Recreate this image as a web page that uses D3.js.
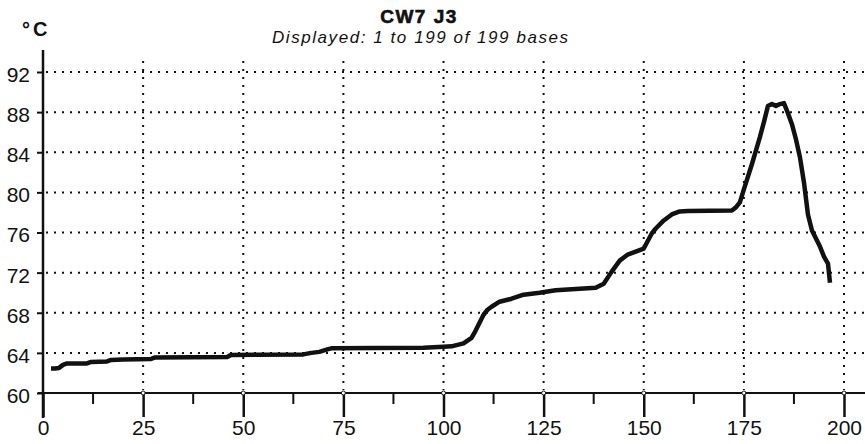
<!DOCTYPE html>
<html>
<head>
<meta charset="utf-8">
<script src="https://cdn.jsdelivr.net/npm/d3@7"></script>
<style>
  html, body { margin: 0; padding: 0; background: #fff; }
  svg { display: block; }
  text { font-family: "Liberation Sans", Arial, sans-serif; fill: #111; }
</style>
</head>
<body>
<svg id="chart" width="865" height="444"></svg>
<script>
// ---- data ----
const title = "CW7 J3";
const subtitle = "Displayed: 1 to 199 of 199 bases";
const unitLabel = "°C";
const xTicks = [0, 25, 50, 75, 100, 125, 150, 175, 200];
const xMinorTicks = [12.5, 37.5, 62.5, 87.5, 112.5, 137.5, 162.5, 187.5];
const yTicks = [60, 64, 68, 72, 76, 80, 84, 88, 92];
const bases = [2, 3, 4, 5, 6, 8, 11, 12, 16, 17, 20, 27, 28, 46, 47, 65, 67, 69, 71, 72,
  95, 100, 102, 105, 107, 108, 109, 110, 111, 112, 114, 117, 120, 124, 128, 136, 138, 140,
  142, 144, 146, 148, 150, 152, 153, 155, 157, 159, 161, 172, 173, 174, 175, 177, 179, 180,
  181, 182, 183, 184, 185, 186, 187, 188, 189, 190, 191, 192, 194, 195, 196, 196.5];
const temps = [62.45, 62.45, 62.5, 62.8, 62.95, 62.95, 62.95, 63.1, 63.15, 63.3, 63.35, 63.4, 63.55, 63.6, 63.8, 63.85, 64.0, 64.1, 64.35, 64.45,
  64.5, 64.6, 64.65, 64.95, 65.5, 66.2, 67.0, 67.8, 68.3, 68.6, 69.1, 69.4, 69.8, 70.0, 70.25, 70.44, 70.5, 70.9,
  72.1, 73.2, 73.8, 74.1, 74.4, 75.9, 76.4, 77.2, 77.8, 78.1, 78.15, 78.2, 78.5, 79.0, 80.3, 82.8, 85.5, 87.0,
  88.6, 88.8, 88.6, 88.8, 88.9, 87.9, 86.8, 85.3, 83.5, 81.0, 77.8, 76.2, 74.6, 73.6, 72.9, 71.0];

// ---- layout ----
const svg = d3.select("#chart");
const x = d3.scaleLinear().domain([0, 200]).range([43, 844]);
const y = d3.scaleLinear().domain([60, 92]).range([393, 72]);

// grid (dotted)
const grid = svg.append("g").attr("stroke", "#111").attr("stroke-width", 2)
  .attr("stroke-dasharray", "2,6").attr("fill", "none");
grid.selectAll("line.h").data(yTicks.filter(d => d > 60)).join("line")
  .attr("class", "h")
  .attr("x1", x(0) + 3).attr("x2", 865)
  .attr("y1", d => y(d)).attr("y2", d => y(d));
grid.selectAll("line.v").data(xTicks.filter(d => d > 0)).join("line")
  .attr("class", "v")
  .attr("x1", d => x(d)).attr("x2", d => x(d))
  .attr("y1", 61).attr("y2", y(60) - 3);

// y axis
const yAxis = d3.axisLeft(y).tickValues(yTicks).tickSize(6).tickPadding(7);
const gy = svg.append("g").attr("transform", `translate(${x(0)},0)`).call(yAxis);
gy.select(".domain").remove();
gy.selectAll(".tick line").attr("stroke", "#111").attr("stroke-width", 2);
gy.selectAll(".tick text").attr("font-size", 21).attr("dy", "0.45em")
  .attr("font-family", "Liberation Sans, Arial, sans-serif").attr("fill", "#111");
svg.append("line").attr("x1", x(0)).attr("x2", x(0)).attr("y1", 50).attr("y2", 418)
  .attr("stroke", "#111").attr("stroke-width", 2.5);

// x axis
const xAxis = d3.axisBottom(x).tickValues(xTicks).tickSize(24).tickPadding(5);
const gx = svg.append("g").attr("transform", `translate(0,${y(60)})`).call(xAxis);
gx.select(".domain").remove();
gx.selectAll(".tick line").attr("stroke", "#111").attr("stroke-width", 2.5);
gx.selectAll(".tick text").attr("font-size", 21).attr("dy", "0.6em")
  .attr("font-family", "Liberation Sans, Arial, sans-serif").attr("fill", "#111");
svg.append("line").attr("x1", 38).attr("x2", 865).attr("y1", y(60)).attr("y2", y(60))
  .attr("stroke", "#111").attr("stroke-width", 2);
svg.append("g").selectAll("line").data(xMinorTicks).join("line")
  .attr("x1", d => x(d)).attr("x2", d => x(d))
  .attr("y1", y(60)).attr("y2", y(60) + 11)
  .attr("stroke", "#111").attr("stroke-width", 2);
svg.append("g").selectAll("circle").data(xTicks.filter(d => d > 0)).join("circle")
  .attr("cx", d => x(d)).attr("cy", y(60)).attr("r", 2)
  .attr("fill", "#fff").attr("stroke", "#111").attr("stroke-width", 1);

// curve
const pts = bases.map((b, i) => [b, temps[i]]);
svg.append("path").datum(pts)
  .attr("d", d3.line().x(d => x(d[0])).y(d => y(d[1])))
  .attr("fill", "none").attr("stroke", "#111").attr("stroke-width", 4.5)
  .attr("stroke-linejoin", "round").attr("stroke-linecap", "butt");

// texts
svg.append("text").attr("x", 419).attr("y", 23).attr("text-anchor", "middle")
  .attr("font-size", 19).attr("font-weight", "900").attr("letter-spacing", 1.5)
  .attr("stroke", "#111").attr("stroke-width", 0.6)
  .text(title);
svg.append("text").attr("x", 272).attr("y", 43)
  .attr("font-size", 17).attr("font-style", "italic")
  .attr("textLength", 296).attr("lengthAdjust", "spacing")
  .text(subtitle);
svg.append("text").attr("x", 22).attr("y", 36)
  .attr("font-size", 20).attr("font-weight", "bold").attr("letter-spacing", 3)
  .text(unitLabel);
</script>
</body>
</html>
